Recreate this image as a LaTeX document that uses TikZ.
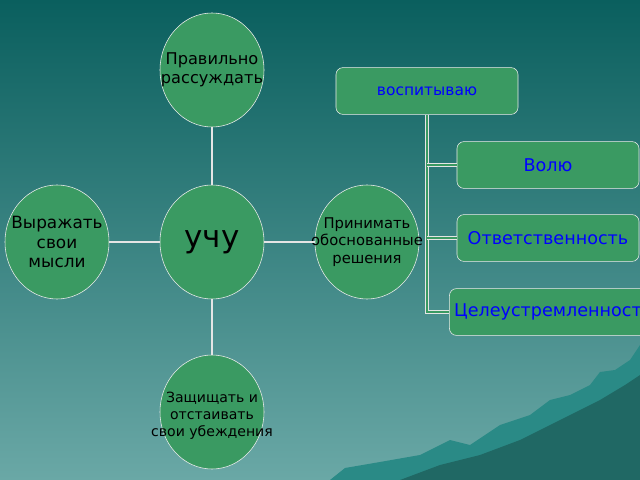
\documentclass[tikz,border=0pt]{standalone}
\usepackage{fontspec}
\setmainfont{DejaVu Sans}
\usetikzlibrary{shapes.geometric,positioning}
\definecolor{bgtop}{HTML}{0A5F5E}
\definecolor{bgbot}{HTML}{6AA8A6}
\definecolor{leaf}{HTML}{3A9A62}
\definecolor{rock}{HTML}{2A8A86}
\begin{document}
\begin{tikzpicture}[x=0.025cm,y=-0.025cm]
\tikzset{blob/.style={ellipse,draw=white!85!gray,fill=leaf,minimum width=2.6cm,minimum height=2.85cm,inner sep=0pt},
blobtext/.style={align=center,inner sep=0pt,font=\fontsize{10.5}{12.5}\selectfont},
box/.style={rectangle,rounded corners=5pt,draw=white!85!gray,fill=leaf,minimum width=4.55cm,minimum height=1.17cm,text=blue,font=\fontsize{12.5}{14}\selectfont},
link/.style={draw=white!80!gray,line width=1.2pt}}
\shade[top color=bgtop,bottom color=bgbot] (0,0) rectangle (640,480);
\useasboundingbox (0,0) rectangle (640,480);
% mountains
\fill[rock] (330,480) -- (345,468) -- (380,462) -- (420,455) -- (450,440) -- (470,445) -- (500,425) -- (530,415) -- (550,400) -- (570,395) -- (590,385) -- (600,372) -- (615,370) -- (630,360) -- (640,345) -- (640,480) -- cycle;
\fill[rock!75!black] (400,480) -- (440,465) -- (480,455) -- (520,440) -- (560,420) -- (600,400) -- (625,385) -- (640,375) -- (640,480) -- cycle;
% circles
\node[blob] (teach) at (212,242) {};
\node[blob] (reason) at (212,70) {};
\node[blob] (express) at (57,242) {};
\node[blob] (decide) at (367,242) {};
\node[blob] (defend) at (212,412) {};
\node[blobtext,font=\fontsize{22}{24}\selectfont] at (teach) {учу};
\node[blobtext,font=\fontsize{11.5}{13.5}\selectfont] at (reason) {Правильно\\рассуждать};
\node[blobtext,font=\fontsize{12}{14}\selectfont] at (express) {Выражать\\свои\\мысли};
\node[blobtext] at (decide) {Принимать\\обоснованные\\решения};
\node[blobtext,font=\fontsize{10}{12}\selectfont] at ([yshift=-0.1cm]defend) {Защищать и\\отстаивать\\свои убеждения};
\draw[link] (teach) -- (reason);
\draw[link] (teach) -- (express);
\draw[link] (teach) -- (decide);
\draw[link] (teach) -- (defend);
% boxes
\node[box,font=\fontsize{11}{13}\selectfont] (raise) at (427,91) {воспитываю};
\node[box] (will) at (548,165) {Волю};
\node[box] (duty) at (548,238) {Ответственность};
\node[box] (goal) at (548,312) {Целеустремленност};
\coordinate (trunk) at (427,312);
\draw[link,double=leaf,double distance=1pt] (raise) -- (trunk) -- (goal);
\draw[link,double=leaf,double distance=1pt] (427,165) -- (will);
\draw[link,double=leaf,double distance=1pt] (427,238) -- (duty);
\end{tikzpicture}
\end{document}
